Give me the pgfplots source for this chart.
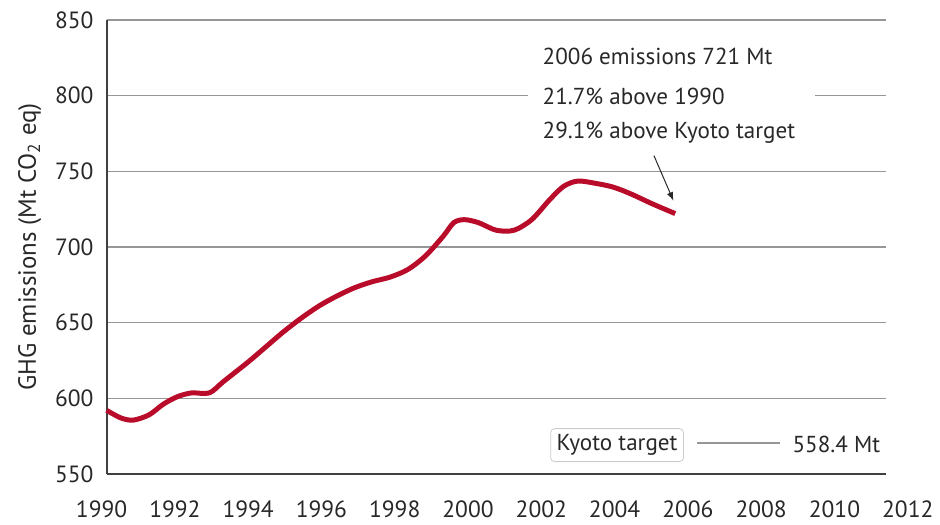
\documentclass[border=0pt]{standalone}
\usepackage{pgfplots}
\pgfplotsset{compat=1.18}
\usepackage{fontspec}
\setmainfont{PT Sans}
\definecolor{curve}{RGB}{185,12,42}
\definecolor{txt}{RGB}{40,40,40}
\definecolor{gridc}{RGB}{150,150,150}
\begin{document}
\begin{tikzpicture}
\begin{axis}[
  scale only axis,
  width=391.5pt, height=228pt,
  xmin=1990, xmax=2012, ymin=550, ymax=850,
  axis x line=bottom, axis y line=left,
  axis line style={line width=1pt, color=black!75, -},
  xtick={1990,1992,...,2012},
  ytick={550,600,...,850},
  major tick length=0pt,
  ymajorgrids,
  grid style={line width=0.7pt, color=gridc},
  /pgf/number format/assume math mode=true,
  tick label style={font=\fontsize{11.8}{13}\selectfont, color=txt},
  xticklabel={\pgfmathparse{2*(-2.5+1.22*\ticknum)}\hspace*{\pgfmathresult pt}\pgfmathprintnumber[1000 sep={},fixed,precision=0]{\tick}},
  xticklabel style={yshift=-10pt},
  yticklabel style={xshift=-3pt},
  ylabel={GHG emissions (Mt CO\textsubscript{2} eq)},
  ylabel style={font=\fontsize{12.5}{14}\selectfont, color=txt, yshift=0pt},
  clip=false,
]
\path (rel axis cs:-0.1367,-0.1031) rectangle (rel axis cs:1.0638,1.0439);
\addplot[curve, line width=2.5pt, smooth, tension=0.5] coordinates {
(1990.0,592) (1990.4,587) (1990.75,585.5) (1991.2,589) (1991.6,596)
(1992.0,601) (1992.4,603.5) (1992.9,603.5) (1993.3,611) (1994.0,624)
(1994.5,634) (1995.0,644) (1995.5,653) (1996.0,661) (1996.5,667.5)
(1997.0,673) (1997.5,677) (1998.0,680) (1998.5,685) (1999.0,694)
(1999.5,707) (1999.8,716) (2000.1,718) (2000.5,716) (2001.0,711)
(2001.5,711) (2002.0,718) (2002.5,731) (2002.9,740) (2003.3,743.5)
(2003.8,742) (2004.3,739.5) (2004.8,735) (2005.4,728.5) (2006.05,722)
};
\fill[white] (axis cs:2001.9,797) rectangle (axis cs:2010.0,803);
\node[anchor=west, text=txt, font=\fontsize{11.6}{13}\selectfont, inner sep=0pt] at (axis cs:2002.3,825.7) {2006 emissions 721 Mt};
\node[anchor=west, text=txt, font=\fontsize{11.6}{13}\selectfont, inner sep=0pt] at (axis cs:2002.3,799.5) {21.7\% above 1990};
\node[anchor=west, text=txt, font=\fontsize{11.6}{13}\selectfont, inner sep=0pt] at (axis cs:2002.3,775.7) {29.1\% above Kyoto target};
\draw[-latex, line width=0.5pt, color=txt] (axis cs:2005.45,760.3) -- (axis cs:2006.0,730.5);
\node[draw=black!20, rounded corners=2pt, fill=white, text=txt, font=\fontsize{11.6}{13}\selectfont, inner xsep=3pt, inner ysep=3pt] at (axis cs:2004.41,569) {Kyoto target};
\draw[line width=0.6pt, color=gridc] (axis cs:2006.66,570.4) -- (axis cs:2009.0,570.4);
\node[text=txt, font=\fontsize{11.6}{13}\selectfont] at (axis cs:2010.6,569.5) {558.4 Mt};
\end{axis}
\end{tikzpicture}
\end{document}
